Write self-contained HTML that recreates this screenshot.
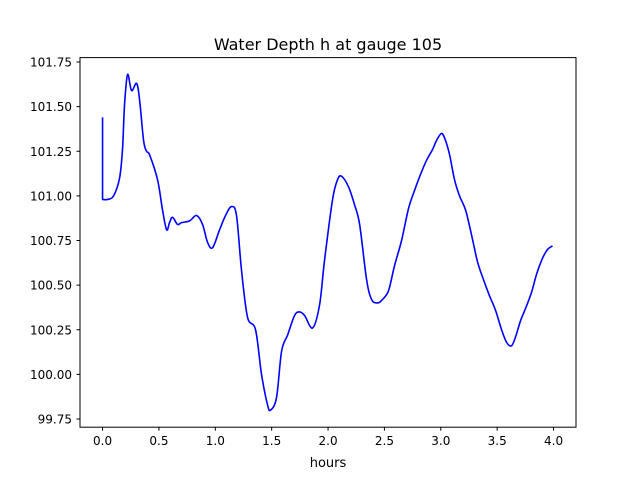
<!DOCTYPE html>
<html><head><meta charset="utf-8"><style>
body{margin:0;background:#fff}
svg{display:block;font-family:"DejaVu Sans","Liberation Sans",sans-serif}
</style></head><body>
<svg id="chart" width="640" height="480">
<rect width="640" height="480" fill="#fff"/>
<text x="328" y="50" text-anchor="middle" font-size="16">Water Depth h at gauge 105</text>
<g id="plot"></g>
<rect x="80" y="57.6" width="496" height="369.6" fill="none" stroke="#000" stroke-width="1"/>
<text x="328" y="467" text-anchor="middle" font-size="13">hours</text>
</svg>
<script>
const xs=[0,0,0.044,0.098,0.151,0.177,0.195,0.222,0.257,0.302,0.328,0.364,0.390,0.417,0.488,0.532,0.568,0.594,0.621,0.665,0.701,0.772,0.834,0.887,0.931,0.976,1.038,1.091,1.144,1.188,1.233,1.286,1.357,1.410,1.463,1.490,1.543,1.588,1.641,1.703,1.747,1.792,1.863,1.925,1.969,2.040,2.084,2.120,2.182,2.235,2.280,2.342,2.386,2.439,2.483,2.537,2.590,2.652,2.714,2.767,2.820,2.874,2.927,2.962,3.007,3.042,3.078,3.122,3.166,3.220,3.273,3.326,3.379,3.432,3.485,3.539,3.583,3.627,3.663,3.707,3.752,3.805,3.849,3.902,3.947,3.991];
const ys=[101.44,100.98,100.98,101.0,101.10,101.26,101.51,101.68,101.59,101.63,101.54,101.31,101.25,101.23,101.09,100.92,100.81,100.85,100.88,100.84,100.85,100.86,100.89,100.84,100.74,100.71,100.81,100.89,100.94,100.89,100.58,100.32,100.25,100.0,99.83,99.80,99.87,100.13,100.22,100.33,100.35,100.33,100.26,100.39,100.64,100.98,101.09,101.11,101.05,100.95,100.84,100.53,100.42,100.40,100.42,100.47,100.61,100.75,100.93,101.03,101.12,101.20,101.26,101.31,101.35,101.31,101.23,101.09,101.0,100.92,100.78,100.63,100.53,100.44,100.36,100.25,100.18,100.16,100.21,100.30,100.37,100.46,100.56,100.65,100.70,100.72];
const xTicks=[0,0.5,1,1.5,2,2.5,3,3.5,4];
const yTicks=[99.75,100,100.25,100.5,100.75,101,101.25,101.5,101.75];
const X=v=>80+(v+0.2)*112.75;
const Y=v=>419-(v-99.75)*178.5;
const NS="http://www.w3.org/2000/svg";
const g=document.getElementById('plot');
function mk(t,a){const e=document.createElementNS(NS,t);for(const k in a)e.setAttribute(k,a[k]);g.appendChild(e);return e;}
xTicks.forEach(t=>{
  const l=mk('line',{x1:X(t),x2:X(t),y1:427.2,y2:430.7,stroke:'#000'});
  
  
  const s=mk('text',{x:X(t),y:445,'text-anchor':'middle','font-size':'12'});
  s.textContent=t.toFixed(1);
  
  
});
yTicks.forEach(t=>{
  const l=mk('line',{x1:76.5,x2:80,y1:Y(t),y2:Y(t),stroke:'#000'});
  
  
  const s=mk('text',{x:72,y:Y(t)+4.5,'text-anchor':'end','font-size':'12'});
  s.textContent=t.toFixed(2);
  
  
});
const P=xs.map((x,i)=>[X(x),Y(ys[i])]);
let d='M'+P[0][0]+','+P[0][1]+' L'+P[1][0]+','+P[1][1];
for(let i=1;i<P.length-1;i++){
  const p0=P[Math.max(1,i-1)],p1=P[i],p2=P[i+1],p3=P[Math.min(P.length-1,i+2)];
  const c1x=p1[0]+(p2[0]-p0[0])/6,c1y=p1[1]+(p2[1]-p0[1])/6;
  const c2x=p2[0]-(p3[0]-p1[0])/6,c2y=p2[1]-(p3[1]-p1[1])/6;
  d+=' C'+c1x+','+c1y+' '+c2x+','+c2y+' '+p2[0]+','+p2[1];
}
const p=mk('path',{d:d,fill:'none',stroke:'#0000ff','stroke-width':'1.6','stroke-linejoin':'round'});


</script>
</body></html>
